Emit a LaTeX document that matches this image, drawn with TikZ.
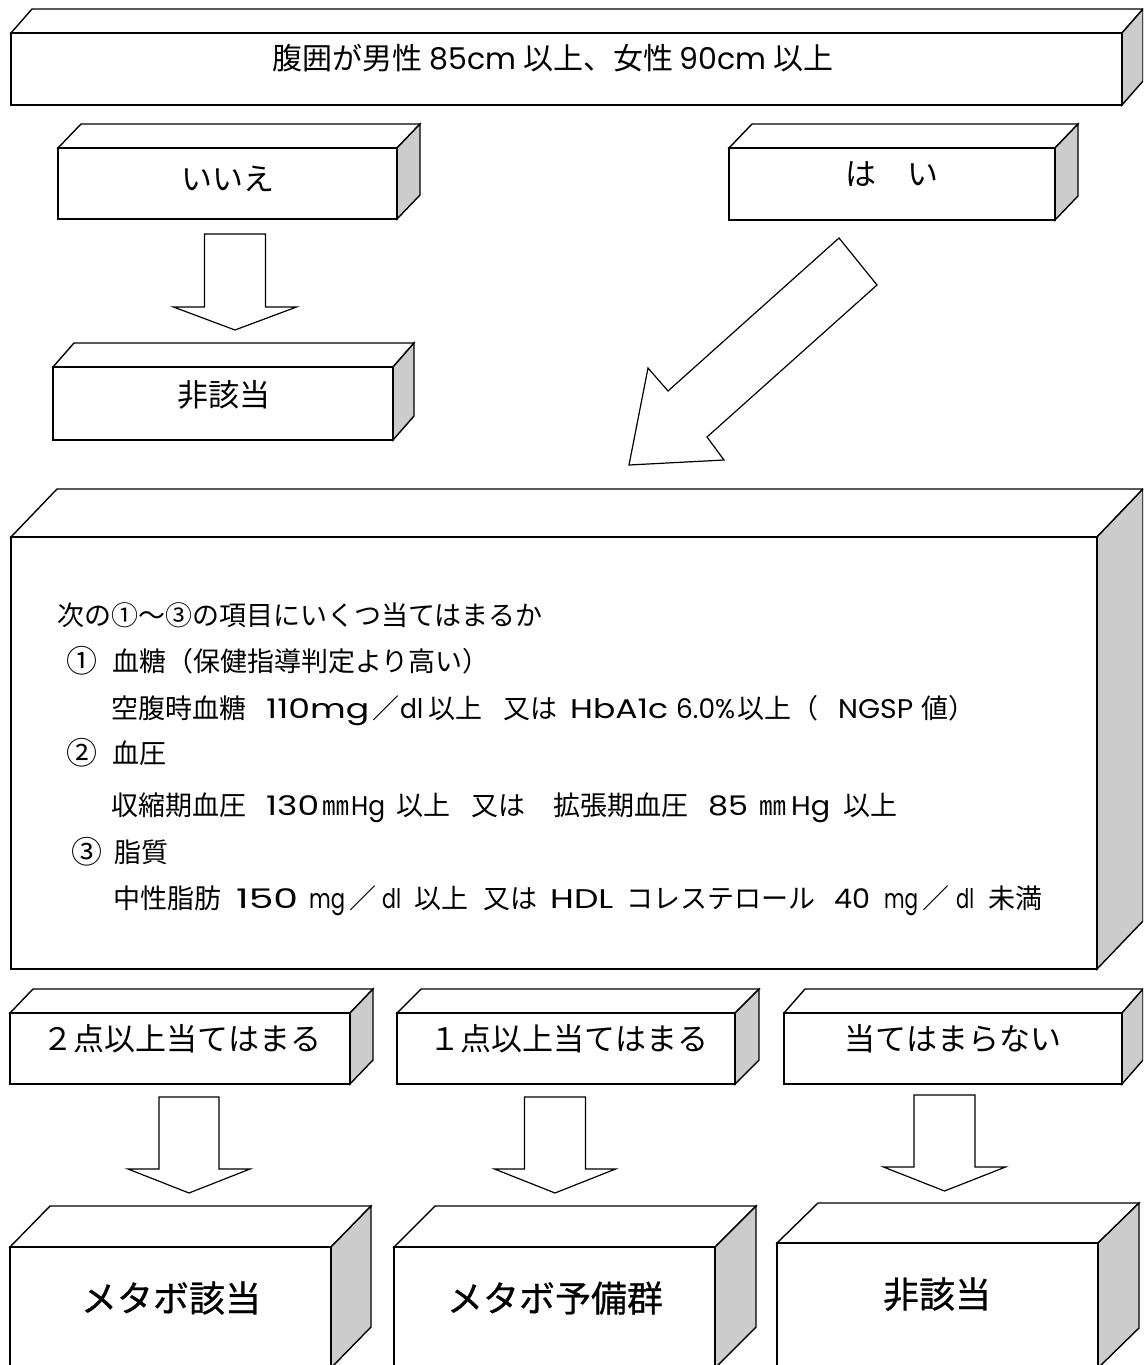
\documentclass[tikz,border=0pt]{standalone}
\usepackage{fontspec}
\usepackage{graphicx}
\setmainfont{Noto Sans CJK JP}
\newfontfamily\lat{Poppins}
\newfontfamily\heavy{Noto Sans CJK JP}[FakeBold=0.6]
\definecolor{sidegray}{HTML}{CCCCCC}
\newsavebox\chunkbox
% slot width, text
\newcommand\pc[2]{\makebox[#1pt][l]{#2}}
% slot width, ink width, latin text (stretched horizontally to the ink width)
\newcommand\fx[3]{\sbox\chunkbox{\lat #3}\makebox[#1pt][l]{\scalebox{\fpeval{#2/(\wd\chunkbox/1pt)}}[1]{\usebox\chunkbox}}}
\tikzset{
  box/.style={draw=black, line width=1.4pt, line join=miter, fill=white},
  sideface/.style={draw=black, line width=1.4pt, line join=miter, fill=sidegray},
  barrow/.style={draw=black, line width=1.2pt, line join=miter, fill=white},
  topfont/.style={inner sep=0pt, text height=26.4pt, text depth=3.6pt, font=\fontsize{30}{30}\selectfont},
  midfont/.style={inner sep=0pt, text height=27.3pt, text depth=3.7pt, font=\fontsize{31}{31}\selectfont},
  bodyfont/.style={inner sep=0pt, anchor=west, text height=23.8pt, text depth=3.2pt, font=\fontsize{27}{27}\selectfont},
  numfont/.style={inner sep=0pt, anchor=west, text height=27.3pt, text depth=3.7pt, font=\fontsize{31}{31}\selectfont},
  bigfont/.style={inner sep=0pt, text height=31.7pt, text depth=4.3pt, font=\fontsize{36}{36}\selectfont\heavy},
}
% name, x1, y1, x2, y2, dx, dy
\newcommand\cub[7]{%
  \path[box] (#2,#3) -- (#2+#6,#3-#7) -- (#4+#6,#3-#7) -- (#4,#3) -- cycle;
  \path[sideface] (#4,#3) -- (#4+#6,#3-#7) -- (#4+#6,#5-#7) -- (#4,#5) -- cycle;
  \node[box, inner sep=0pt, minimum width={#4-#2}, minimum height={#5-#3}] (#1) at ({(#2+#4)/2},{(#3+#5)/2}) {};
}
% name, cx, top, shaft bottom, tip, half shaft, half wing
\newcommand\darr[7]{%
  \path[barrow] (#2-#6,#3) -- (#2+#6,#3) -- (#2+#6,#4) -- (#2+#7,#4) -- (#2,#5) -- (#2-#7,#4) -- (#2-#6,#4) -- cycle;
  \coordinate (#1) at (#2,#5);
}
\begin{document}
\begin{tikzpicture}[x=1pt, y=-1pt]
\useasboundingbox (0,0) rectangle (1143,1365);
\clip (0,0) rectangle (1143,1365);
\fill[white] (0,0) rectangle (1143,1365);

% boxes
\cub{q}{11}{33}{1122}{105}{21}{24}
\cub{no}{58}{148}{397}{219}{23}{24}
\cub{yes}{729}{148}{1055}{220}{23}{24}
\cub{na1}{53}{367}{393}{440}{21}{24}
\cub{big}{11}{537}{1097}{969}{46}{48}
\cub{r1}{10}{1013}{350}{1084}{23}{24}
\cub{r2}{397}{1013}{735}{1084}{24}{24}
\cub{r3}{784}{1013}{1122}{1084}{21}{24}
\cub{b1}{10}{1247}{331}{1368}{40}{41}
\cub{b2}{394}{1247}{715}{1368}{41}{41}
\cub{b3}{777}{1243}{1098}{1368}{41}{40}

% block arrows
\darr{a1}{235}{234}{307}{330}{30.5}{61.5}
\darr{a2}{189}{1097}{1169}{1193}{30}{61}
\darr{a3}{555}{1097}{1169}{1193}{30.5}{60.5}
\darr{a4}{944.5}{1095}{1167}{1191}{30.5}{61}
\path[barrow] (839,238) -- (877,285) -- (707,437) -- (724,460) -- (629,465) -- (648,368) -- (668,391) -- cycle;

% labels
\node[topfont] (tq) at (553,58) {腹囲が男性 {\lat 85cm} 以上、女性 {\lat 90cm} 以上};
\node[midfont] (tno) at (228,179) {いいえ};
\node[midfont] (tyes) at (892,174) {は　い};
\node[midfont] (tna1) at (224,395) {非該当};
\node[midfont] (tr1) at (182,1039) {２点以上当てはまる};
\node[midfont] (tr2) at (569,1039) {１点以上当てはまる};
\node[midfont] (tr3) at (953,1039) {当てはまらない};
\node[bigfont] (tb1) at (171,1298) {メタボ該当};
\node[bigfont] (tb2) at (555,1298) {メタボ予備群};
\node[bigfont] (tb3) at (937,1294) {非該当};

% body text
\node[bodyfont] (l0) at (57,615) {次の①～③の項目にいくつ当てはまるか};
\node[numfont] (n1) at (66,661) {①};
\node[bodyfont] (h1) at (112,661) {血糖（保健指導判定より高い）};
\node[bodyfont] (d1) at (111,708) {\pc{155}{空腹時血糖}\fx{106}{103}{110mg}\pc{28}{／}\fx{28}{23}{dl}\pc{75}{以上}\pc{67}{又は}\fx{106}{98}{HbA1c}\fx{61}{59}{6.0\%}\pc{54}{以上}\pc{47}{（}\fx{83}{75}{NGSP}\pc{27}{値}）};
\node[numfont] (n2) at (66,753) {②};
\node[bodyfont] (h2) at (112,753) {血圧};
\node[bodyfont] (d2) at (111,805) {\pc{155}{収縮期血圧}\fx{56}{53}{130}\pc{29}{㎜}\fx{45}{34}{Hg}\pc{75}{以上}\pc{82}{又は}\pc{155}{拡張期血圧}\fx{51}{40}{85}\pc{32}{㎜}\fx{52}{39}{Hg}以上};
\node[numfont] (n3) at (71,852) {③};
\node[bodyfont] (h3) at (114,852) {脂質};
\node[bodyfont] (d3) at (113,898) {\pc{123}{中性脂肪}\fx{73}{62}{150}\fx{40}{36}{mg}\pc{33}{／}\fx{32}{19}{dl}\pc{69}{以上}\pc{67}{又は}\fx{76}{63}{HDL}\pc{208}{コレステロール}\fx{50}{36}{40}\fx{38}{34}{mg}\pc{34}{／}\fx{32}{18}{dl}未満};
\end{tikzpicture}
\end{document}
